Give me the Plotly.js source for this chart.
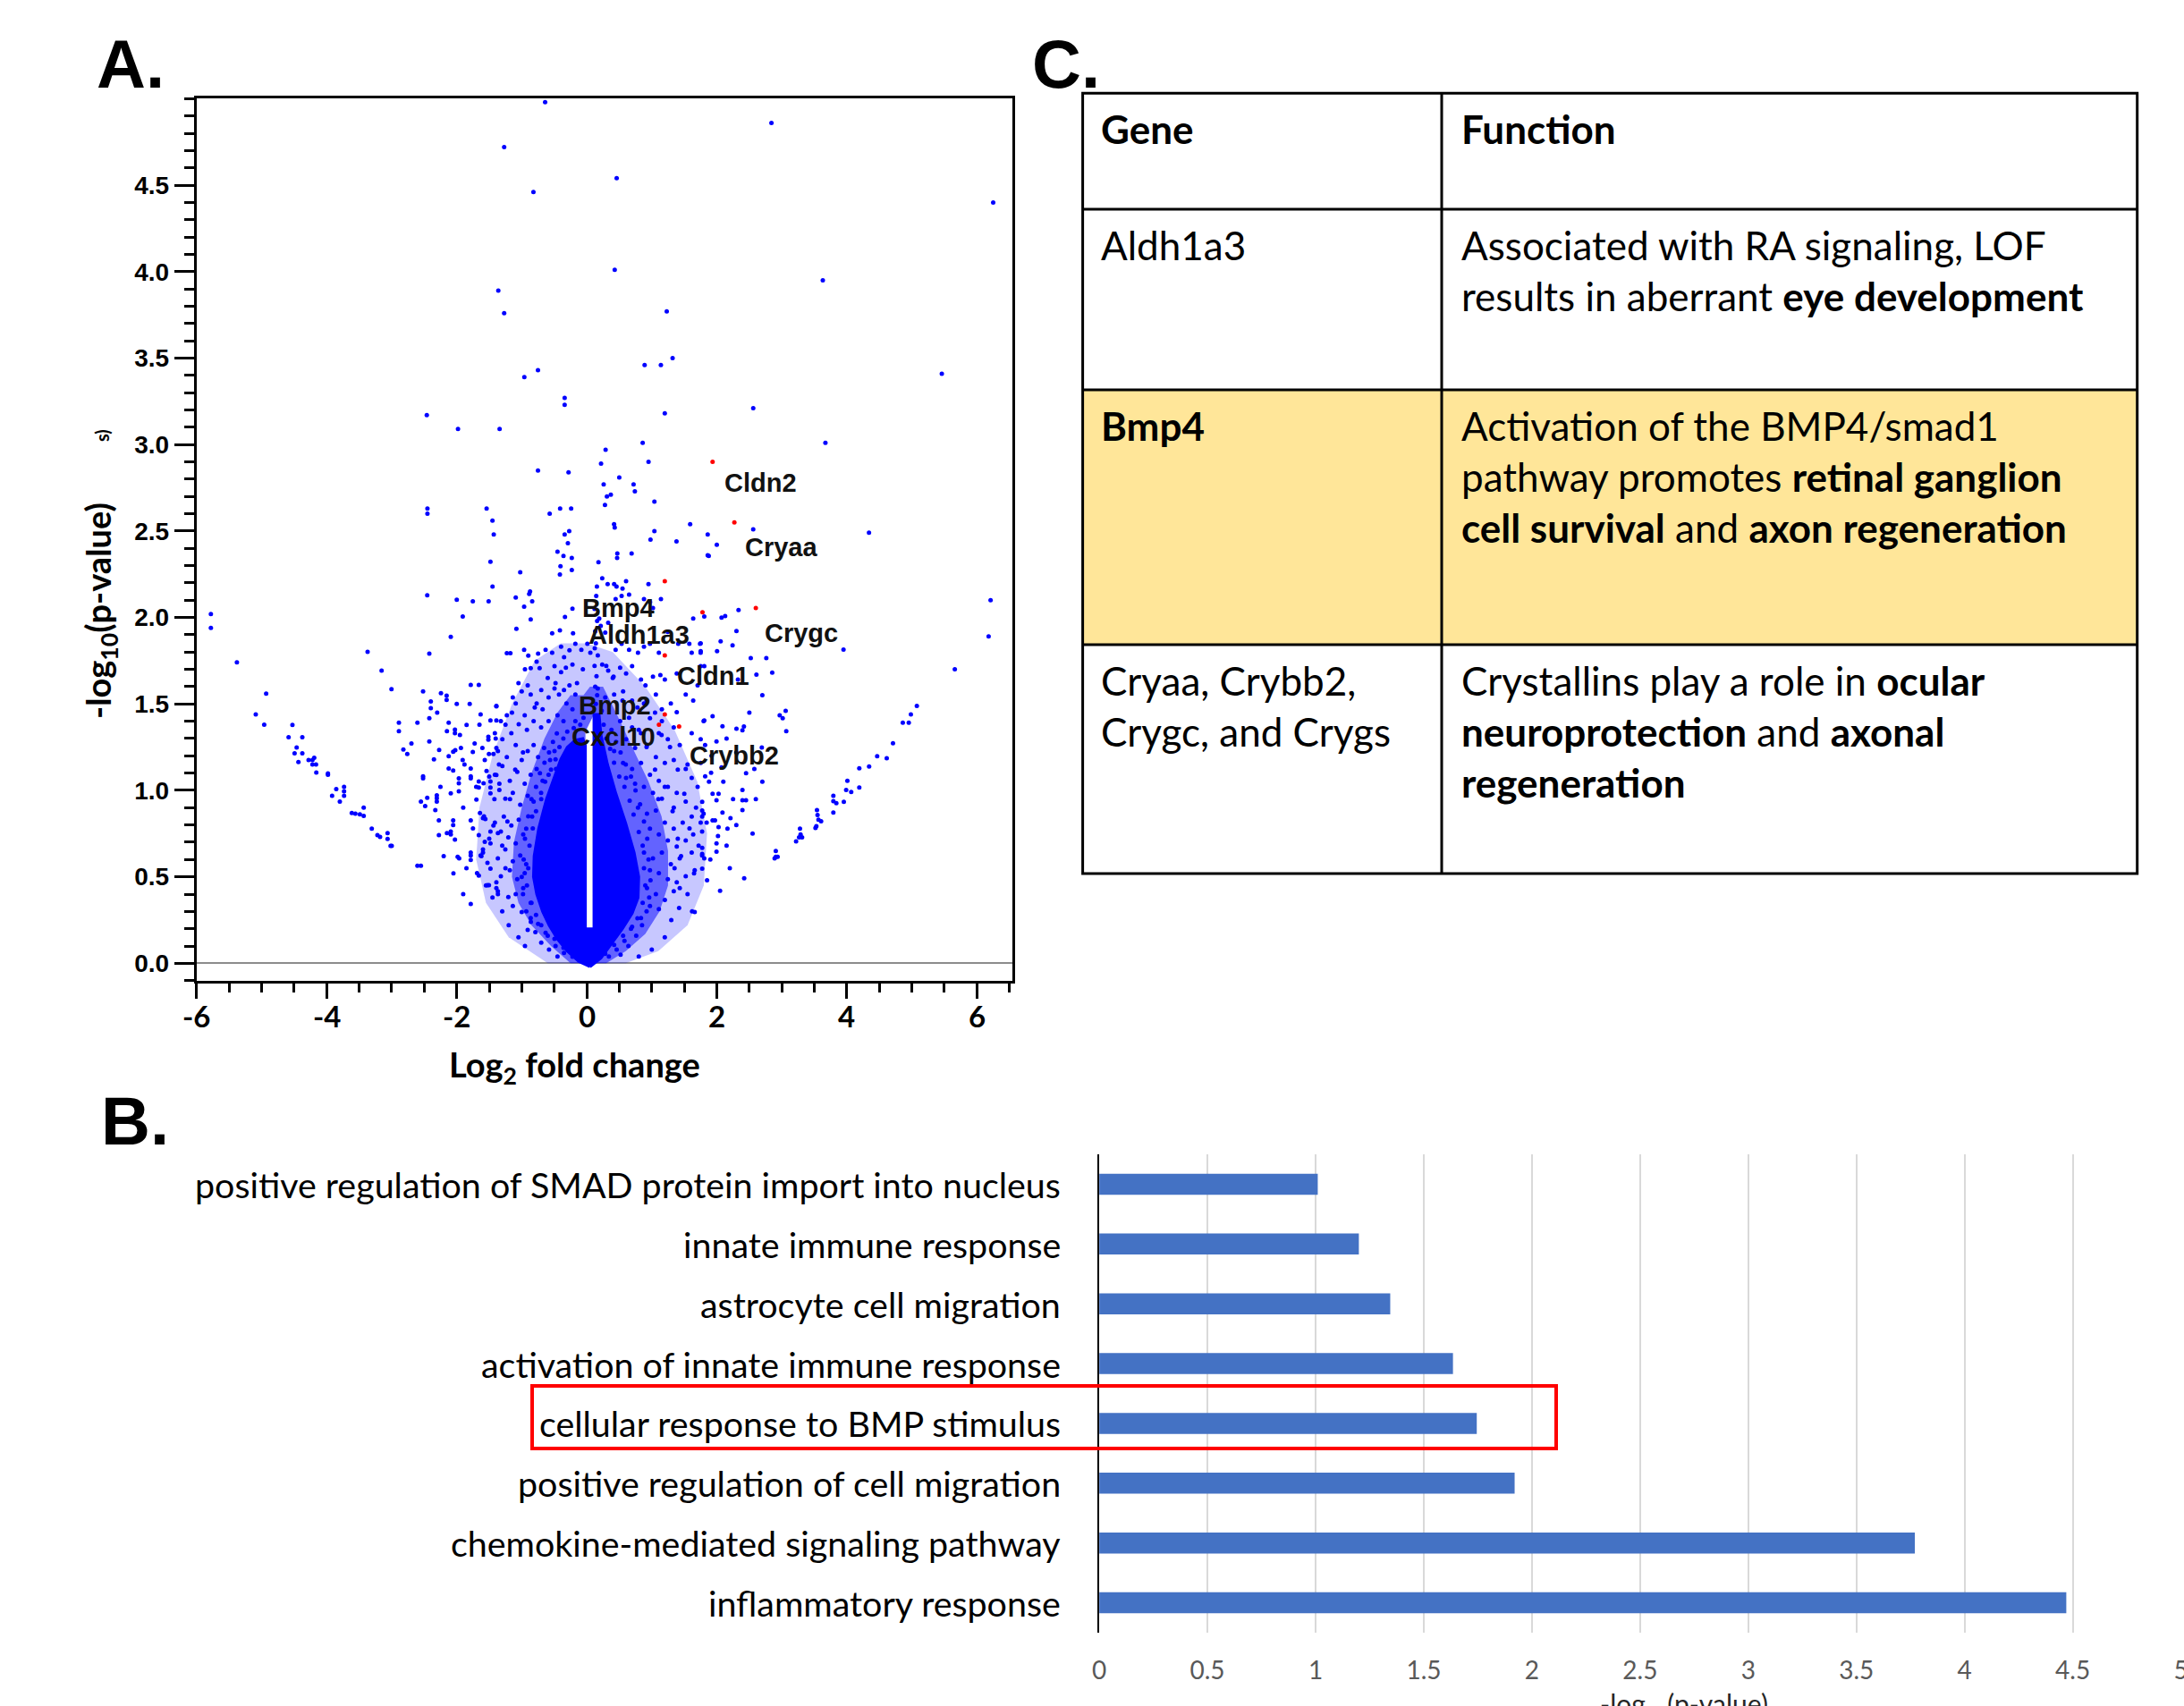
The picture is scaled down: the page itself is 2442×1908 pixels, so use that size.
<!DOCTYPE html>
<html>
<head>
<meta charset="utf-8">
<script src="https://cdn.plot.ly/plotly-3.0.1.min.js"></script>
<style>html,body{margin:0;padding:0;background:#fff;}#fig{width:2442px;height:1908px;}</style>
</head>
<body>
<div id="fig"></div>
<script>
// ---------------- DATA ----------------
// Panel A: volcano plot (log2 fold change, -log10 p-value)
const topOutliers = [[-0.64,4.98],[2.84,4.86],[-1.27,4.72],[0.46,4.54],[-0.82,4.46],[6.25,4.40],[0.43,4.01],[3.63,3.95],[-1.36,3.89],[-1.27,3.76],[1.23,3.77],[1.32,3.50],[0.89,3.46],[1.14,3.46],[-0.75,3.43],[-0.96,3.39],[5.46,3.41],[-0.34,3.27],[-0.34,3.23],[2.56,3.21],[-2.46,3.17],[-1.98,3.09],[-1.34,3.09],[1.20,3.18],[3.67,3.01],[0.86,3.01],[0.29,2.97],[0.95,2.90],[-0.75,2.85],[-0.28,2.84],[0.22,2.89],[0.50,2.81],[0.26,2.77],[0.28,2.65],[0.72,2.77],[0.74,2.73],[0.37,2.71],[0.31,2.70],[1.04,2.67],[-2.45,2.63],[-2.45,2.60],[-1.54,2.63],[-1.45,2.56],[-1.43,2.48],[-0.41,2.63],[-0.24,2.63],[-0.57,2.60],[0.42,2.54],[0.43,2.52],[1.59,2.54],[1.86,2.48],[2.00,2.42],[2.56,2.51],[4.34,2.49],[1.04,2.50],[0.98,2.45],[1.38,2.44],[1.86,2.36],[0.69,2.37],[0.47,2.37],[-0.27,2.50],[-0.34,2.48],[-0.45,2.38],[-0.29,2.43],[0.18,2.32]];

const leftWing = [[-5.78,2.02],[-5.78,1.94],[-5.38,1.74],[-4.93,1.56],[-5.09,1.44],[-4.96,1.38],
[-1.481,2.322],[-1.449,2.179],[-2.453,2.129],[-1.999,2.103],[-1.752,2.093],[-1.509,2.093],[-1.907,2.006],[-2.091,1.888],[-3.370,1.801],[-2.421,1.791],[-3.155,1.693],[-3.003,1.586],
[-1.784,1.610],[-1.660,1.610],[-2.517,1.572],[-2.242,1.562],[-2.155,1.548],[-2.155,1.524],[-2.398,1.514],[-2.398,1.476],[-1.999,1.500],[-1.390,1.489],[-1.632,1.439],[-1.481,1.405],[-1.390,1.405],[-2.421,1.417],[-2.889,1.391],[-2.889,1.343],[-2.604,1.391],[-2.123,1.391],[-2.150,1.343],[-2.027,1.352],[-2.027,1.331],[-1.848,1.379],[-1.513,1.310],[-1.513,1.293],[-2.421,1.283],[-2.696,1.271],[-2.820,1.236],[-2.760,1.210],[-2.270,1.234],[-2.123,1.198],[-2.054,1.224],[-2.022,1.233],[-1.935,1.245],[-1.908,1.176],[-1.752,1.222],[-1.724,1.271],[-1.605,1.245],[-1.504,1.210],[-1.435,1.210],[-1.366,1.227],[-1.568,1.176],[-2.123,1.127],[-2.054,1.115],[-1.784,1.127],[-1.784,1.081],[-1.784,1.069],[-1.660,1.052],[-1.660,1.017],[-1.587,1.041],[-1.541,1.112],[-1.481,1.052],[-1.481,1.017],[-1.481,0.983],[-1.390,1.089],[-1.344,1.038],[-1.967,1.069],[-1.967,1.041],[-1.967,0.995],[-2.091,0.983],[-2.517,1.081],[-2.517,1.069],[-2.306,0.972],[-2.306,0.955],[-2.306,0.935],[-2.453,0.957],[-2.550,0.935],[-2.485,0.909],[-2.329,0.886],[-2.274,0.826],[-2.274,0.741],[-2.150,0.753],[-2.091,0.762],[-2.091,0.745],[-2.054,0.826],[-2.054,0.800],[-2.027,0.716],[-1.784,0.826],[-1.697,0.947],[-1.642,0.869],[-1.596,0.840],[-1.559,0.835],[-1.660,0.741],[-1.435,0.797],[-1.481,0.762],[-1.366,0.753],[-1.568,0.702],[-1.596,0.659],[-1.632,0.624],[-1.596,0.641],[-1.481,0.693],[-1.985,0.616],[-1.962,0.607],[-1.784,0.641],[-1.784,0.624],[-1.784,0.598],[-1.527,0.581],[-1.481,0.547],[-1.687,0.521],[-1.660,0.507],[-1.527,0.452],[-1.504,0.452],[-1.390,0.469],[-1.390,0.435],[-1.366,0.400],[-2.604,0.564],[-2.550,0.564],[-1.784,0.343],
[-4.526,1.379],[-4.585,1.308],[-4.374,1.308],[-4.461,1.248],[-4.493,1.214],[-4.374,1.214],[-4.434,1.164],[-4.278,1.176],[-4.218,1.176],[-4.191,1.188],[-4.218,1.150],[-4.163,1.150],[-4.159,1.103],[-3.980,1.098],[-3.980,1.090],[-3.852,1.007],[-3.916,0.969],[-3.797,0.935],[-3.732,1.021],[-3.732,0.969],[-3.732,0.995],[-3.613,0.869],[-3.558,0.866],[-3.430,0.900],[-3.430,0.852],[-3.489,0.862],[-3.306,0.779],[-3.219,0.741],[-3.178,0.731],[-3.063,0.753],[-3.063,0.719],[-2.999,0.679],[-3.017,0.679]];

const coreHalo = [[-0.358,2.356],[-0.230,2.344],[-0.404,2.296],[-0.230,2.275],[-0.413,2.248],[0.467,2.344],[-1.023,2.262],[-1.092,2.115],[-0.963,2.063],[-0.872,2.150],[-0.839,2.093],[-0.885,2.136],[-0.862,1.989],[-1.082,1.934],[-0.532,1.908],[-0.413,1.926],[-0.335,2.003],[-0.220,2.051],[-0.211,1.908],[-1.229,1.793],[-1.174,1.793],[-0.963,1.813],[-0.899,1.779],[-0.748,1.791],[-0.862,1.707],[-0.725,1.707],[-0.771,1.745],[-0.633,1.813],[-0.532,1.796],[-0.395,1.831],[-0.349,1.770],[-0.266,1.810],[-0.496,1.719],[-0.395,1.684],[-0.321,1.710],[-0.220,1.727],
[0.156,2.179],[0.238,2.227],[0.321,2.193],[0.421,2.193],[0.458,2.179],[0.550,2.167],[0.605,2.210],[0.651,2.132],[0.536,2.124],[0.444,2.106],[0.146,2.124],[0.949,2.193],[1.141,2.106],[0.880,2.106],[0.972,2.089],[1.018,2.055],[1.637,1.994],[0.192,1.994],[0.330,1.969],[0.215,1.951],[0.284,1.913],[-0.175,1.848],[-0.083,1.813],[0.009,1.848],[0.055,1.796],[0.123,1.822],[0.444,1.813],[0.536,1.848],[0.651,1.813],[0.788,1.796],[0.880,1.831],[0.972,1.848],[1.109,1.796],[1.247,1.917],[1.407,1.848],[1.577,1.848],[1.751,1.796],[1.742,1.848],[1.614,1.796],
[0.238,1.727],[0.330,1.693],[0.412,1.658],[0.513,1.710],[0.605,1.676],[0.697,1.719],[0.834,1.641],[0.903,1.607],[1.018,1.658],[1.132,1.667],[1.201,1.641],[1.384,1.676],[1.522,1.555],[1.637,1.520],[1.705,1.607],
[0.169,1.589],[0.284,1.538],[0.421,1.555],[0.559,1.572],[0.697,1.520],[0.880,1.503],[1.063,1.555],[1.155,1.469],[1.293,1.503],[1.384,1.452],
[-0.266,1.607],[-0.175,1.555],[-0.312,1.503],[-0.427,1.555],[-0.496,1.589],[-0.587,1.538],[-0.679,1.469],[-0.771,1.503],[-0.862,1.555],[-0.908,1.607],[-1.000,1.572],[-1.092,1.503],[-1.137,1.538],[-1.229,1.434],[-1.321,1.400],[-1.390,1.486],[-1.413,1.331],[-1.298,1.296],[-1.160,1.331],[-1.046,1.383],[-0.954,1.434],[-0.817,1.400],[-0.702,1.365],[-0.587,1.400],[-0.450,1.434],[-0.358,1.400],[-0.220,1.469],[-0.175,1.400],
[-1.390,1.245],[-1.229,1.193],[-1.092,1.262],[-1.000,1.176],[-0.908,1.227],[-0.817,1.262],[-0.748,1.193],[-0.656,1.245],[-0.564,1.176],[-0.496,1.227],
[-1.413,1.090],[-1.298,1.141],[-1.183,1.055],[-1.069,1.107],[-0.954,1.038],[-0.862,1.090],[-0.771,1.124],[-0.679,1.055],[-0.587,1.090],[-0.473,1.124],
[-1.344,1.003],[-1.252,0.952],[-1.137,0.986],[-1.023,0.917],[-0.908,0.969],[-0.817,0.935],[-0.702,0.986],[-0.610,0.900],
[-1.413,0.814],[-1.275,0.848],[-1.160,0.797],[-1.046,0.831],[-0.931,0.779],[-0.840,0.848],[-1.321,0.762],[-1.206,0.728],[-1.092,0.693],[-0.977,0.745],
[-1.367,0.607],[-1.252,0.659],[-1.137,0.590],[-1.023,0.624],[-0.931,0.573],[-1.321,0.504],[-1.183,0.538],[-1.069,0.486],[-0.954,0.521],
[-1.367,0.417],[-1.206,0.383],[-1.092,0.400],[-0.977,0.435],[-0.862,0.349],[-1.137,0.331],[-1.000,0.297],[-0.862,0.262],[-0.748,0.228],[-0.908,0.193],[-0.633,0.176],[-0.496,0.142],[-0.358,0.090],[-0.220,0.038],
[0.972,1.417],[1.155,1.400],[1.338,1.365],[1.109,1.331],[1.247,1.296],[1.430,1.262],[1.614,1.331],[1.797,1.400],[1.820,1.262],
[0.513,1.400],[0.697,1.365],[0.834,1.331],[0.605,1.296],[0.743,1.245],[0.926,1.262],[1.063,1.193],[1.201,1.159],[1.338,1.176],[1.522,1.124],[1.614,1.072],[1.705,1.021],
[0.421,1.227],[0.559,1.159],[0.697,1.124],[0.834,1.159],[0.972,1.090],[1.109,1.055],[1.247,1.021],[1.384,0.986],[1.522,0.935],[1.338,0.900],[1.155,0.952],[1.018,0.986],[0.880,1.021],[0.743,1.038],[0.605,1.072],
[0.788,0.900],[0.926,0.866],[1.063,0.883],[1.201,0.814],[1.338,0.779],[1.476,0.814],[1.614,0.848],[1.797,0.866],[1.774,0.762],[1.637,0.745],[1.522,0.710],[1.384,0.676],[1.247,0.710],[1.109,0.745],[0.972,0.779],
[0.880,0.641],[1.018,0.607],[1.155,0.641],[1.293,0.573],[1.430,0.607],[1.614,0.641],[1.774,0.624],[1.660,0.538],[1.522,0.504],[1.384,0.469],[1.247,0.486],[1.109,0.521],[0.972,0.538],
[0.926,0.435],[1.063,0.400],[1.201,0.366],[1.109,0.314],[0.972,0.331],[0.834,0.262],[0.697,0.211],[0.559,0.159],[0.421,0.107],[0.284,0.055],[1.338,0.417],[1.430,0.435],[1.660,0.297]];

const coreEdge = [[-0.90,0.55],[-0.92,0.45],[-0.88,0.68],[-0.83,0.78],[-0.78,0.88],[-0.70,0.95],[-0.64,1.05],[-0.55,1.12],[-0.48,1.18],[-0.42,1.25],[-0.36,1.30],[-0.30,1.34],[-0.20,1.36],[-0.10,1.38],[-0.05,1.42],[-0.85,0.35],[-0.78,0.28],[-0.70,0.22],[-0.60,0.16],[-0.48,0.10],[-0.35,0.06],[-0.97,0.60],[-0.95,0.72],[-0.90,0.85],[-0.85,0.95],[-0.78,1.02],[-0.72,1.10],[-0.65,1.16],[-0.58,1.22],[-0.52,1.28],[-0.46,1.33],[-1.00,0.50],[-0.98,0.40],[-0.93,0.30],[-0.86,0.24],[-0.79,0.18],[-0.70,0.12],[-0.58,0.08],[-0.45,0.04],
[0.88,0.55],[0.90,0.45],[0.86,0.68],[0.80,0.76],[0.72,0.86],[0.66,0.94],[0.58,1.02],[0.50,1.08],[0.42,1.16],[0.36,1.24],[0.30,1.30],[0.26,1.38],[0.23,1.46],[0.86,0.35],[0.78,0.26],[0.68,0.20],[0.58,0.13],[0.46,0.08],[0.34,0.04],[0.95,0.60],[0.93,0.72],[0.88,0.82],[0.82,0.92],[0.75,1.00],[0.68,1.08],[0.60,1.15],[0.52,1.22],[0.45,1.28],[0.38,1.35],[0.98,0.48],[0.96,0.38],[0.92,0.30],[0.85,0.22],[0.76,0.16],[0.64,0.10],[0.52,0.05],
[0.14,1.50],[0.16,1.55],[0.13,1.60],[0.15,1.66],[0.12,1.72],[0.17,1.78],[0.14,1.85],[0.13,1.92],[0.16,1.98],[0.12,2.05]];

const midBand = [[-1.55,0.45],[-1.45,0.38],[-1.62,0.62],[-1.50,0.72],[-1.58,0.85],[-1.42,0.95],[-1.50,1.08],[-1.35,1.15],[-1.40,1.30],[-1.25,1.38],[-1.30,0.30],[-1.20,0.22],[-1.05,0.15],[-0.95,0.10],[-1.25,0.55],[-1.30,0.68],[-1.22,0.82],[-1.18,0.95],[-1.10,1.12],[-0.98,1.22],[-0.92,1.35],[-0.80,1.48],[-0.70,1.58],[-0.60,1.65],[-0.48,1.62],[-0.35,1.58],[-0.15,1.62],[-0.06,1.70],[-1.15,1.45],[-1.05,1.62],[-0.95,1.70],
[1.30,0.25],[1.42,0.32],[1.55,0.40],[1.65,0.52],[1.72,0.68],[1.58,0.78],[1.68,0.90],[1.50,0.98],[1.55,1.15],[1.40,1.12],[1.28,1.25],[1.15,1.32],[1.05,1.45],[0.92,1.52],[0.78,1.48],[0.65,1.42],[0.55,1.52],[0.40,1.65],[0.30,1.72],[1.20,0.15],[1.00,0.08],[0.80,0.04],[1.35,0.55],[1.40,0.72],[1.32,0.88],[1.20,1.02],[1.10,0.95],[1.05,1.12],[0.92,1.25],[0.80,1.35],[1.45,0.62],[1.62,0.30],[1.85,0.48],[1.90,0.60],[1.88,1.05],[1.92,1.20],
[-1.90,0.40],[-2.05,0.52],[-1.85,0.55],[-2.20,0.62],[-1.75,0.78],[-1.90,0.90],[-2.25,1.02],[-1.70,1.02],[-1.88,1.15],[-2.35,1.18],[-1.95,1.32],[-1.65,1.38],[-2.30,1.45],[-1.80,1.50],
[2.05,0.42],[2.20,0.55],[2.15,0.68],[2.30,0.80],[2.25,0.95],[2.10,1.05],[2.45,1.10],[2.30,1.22],[2.15,1.30],[2.55,0.75],[2.60,0.95],[2.70,1.05],[2.50,1.45],[2.70,1.55]];

const rightWing = [[1.876,2.356],[1.807,2.006],[2.073,1.999],[2.128,2.008],[2.334,2.043],[2.302,1.922],[1.752,1.851],[1.752,1.805],[2.004,1.805],[2.059,1.862],[2.242,1.839],[2.522,1.765],[2.761,1.765],[3.948,1.814],[2.609,1.670],[2.852,1.681],[1.752,1.719],[1.807,1.719],[2.325,1.641],
[1.807,1.405],[1.935,1.429],[2.087,1.371],[2.302,1.357],[2.394,1.348],[2.417,1.369],[2.967,1.434],[3.013,1.417],[3.059,1.460],[3.068,1.343],
[1.752,1.296],[1.995,1.283],[2.692,1.248],[2.577,1.124],[1.821,1.081],[1.912,1.102],[2.073,1.133],[1.752,1.159],
[1.935,0.981],[2.027,0.981],[1.995,0.943],[2.394,1.003],[2.394,0.943],[2.449,0.943],[2.394,0.886],
[1.775,0.934],[1.775,0.883],[1.775,0.848],[1.752,0.814],[1.844,0.814],[1.935,0.826],[1.972,0.826],[2.027,0.788],[2.087,0.872],[2.210,0.840],[2.164,0.779],
[2.018,0.736],[1.995,0.693],[1.995,0.645],[1.775,0.667],[1.775,0.633],[1.807,0.607],[1.775,0.547],[2.421,0.492],
[5.076,1.488],[4.984,1.440],[4.952,1.391],[4.860,1.391],[4.709,1.272],[4.466,1.198],[4.613,1.186],[4.342,1.138],[4.191,1.128],[4.008,1.055],[3.989,1.003],[4.067,0.991],[4.191,1.017],[3.792,0.969],[3.792,0.938],[3.838,0.926],[3.953,0.934],[3.792,0.872],[3.540,0.886],[3.549,0.857],[3.563,0.831],[3.604,0.822],[3.531,0.793],[3.517,0.783],[3.279,0.779],[3.288,0.745],[3.265,0.728],[3.219,0.705],[3.311,0.728],[2.907,0.650],[2.907,0.616],[2.889,0.607],[2.935,0.616],
[6.21,2.10],[6.18,1.89],[5.66,1.70]];

// outlines of the saturated cloud: solid core, dense speckle zone, sparse speckle zone, empty gap at x≈0
const coreOutline = [[0.05,-0.02],[-0.12,0.01],[-0.30,0.07],[-0.45,0.14],[-0.58,0.22],[-0.68,0.30],[-0.77,0.40],[-0.82,0.50],[-0.81,0.62],[-0.74,0.78],[-0.62,0.95],[-0.50,1.08],[-0.40,1.18],[-0.30,1.25],[-0.18,1.29],[-0.06,1.30],[-0.02,1.26],[-0.02,0.20],[0.11,0.20],[0.11,1.44],[0.19,1.44],[0.22,1.32],[0.32,1.15],[0.45,0.98],[0.60,0.81],[0.73,0.64],[0.80,0.50],[0.79,0.38],[0.70,0.29],[0.55,0.20],[0.38,0.11],[0.22,0.03],[0.05,-0.02]];
const denseZone = [[-0.25,0.00],[-0.55,0.10],[-0.85,0.22],[-1.05,0.35],[-1.15,0.50],[-1.12,0.70],[-1.00,0.90],[-0.85,1.10],[-0.65,1.30],[-0.45,1.45],[-0.25,1.55],[-0.05,1.55],[0.05,1.60],[0.25,1.60],[0.45,1.45],[0.70,1.25],[0.95,1.05],[1.15,0.85],[1.25,0.65],[1.25,0.45],[1.12,0.30],[0.90,0.17],[0.60,0.07],[0.30,0.00],[-0.25,0.00]];
const sparseZone = [[-0.60,0.00],[-1.20,0.15],[-1.55,0.35],[-1.70,0.60],[-1.65,0.90],[-1.45,1.20],[-1.15,1.50],[-0.80,1.75],[-0.40,1.85],[0.00,1.85],[0.40,1.80],[0.90,1.60],[1.35,1.35],[1.70,1.05],[1.85,0.75],[1.80,0.45],[1.55,0.22],[1.10,0.07],[0.60,0.00],[-0.60,0.00]];
const gapOutline = [[-0.02,0.20],[0.11,0.20],[0.11,1.44],[-0.02,1.34],[-0.02,0.20]];

const highlighted = [[1.935,2.90],[2.27,2.55],[1.20,2.21],[1.78,2.03],[2.60,2.055],[1.20,1.78],[1.20,1.44],[1.11,1.38],[1.42,1.37]];

const geneNames = ['Cldn2','Cryaa','Crygc','Bmp4','Aldh1a3','Cldn1','Bmp2','Cxcl10','Crybb2'];
const geneX = [2.67, 2.99, 3.30, 0.49, 0.80, 1.94, 0.43, 0.41, 2.27];
const geneY = [2.78, 2.405, 1.91, 2.055, 1.90, 1.66, 1.49, 1.31, 1.20];

const xTickVals = [-6,-4,-2,0,2,4,6];
const xTickText = ['-6','-4','-2','0','2','4','6'];
const yTickVals = [0,0.5,1,1.5,2,2.5,3,3.5,4,4.5];
const yTickText = ['0.0','0.5','1.0','1.5','2.0','2.5','3.0','3.5','4.0','4.5'];

// Panel B: GO terms
const goTerms = ['positive regulation of SMAD protein import into nucleus','innate immune response','astrocyte cell migration','activation of innate immune response','cellular response to BMP stimulus','positive regulation of cell migration','chemokine-mediated signaling pathway','inflammatory response'];
const goValues = [1.01, 1.20, 1.345, 1.635, 1.745, 1.92, 3.77, 4.47];

// Panel C: table
const tableHeader = ['<b>Gene</b>', '<b>Function</b>'];
const tableGenes = ['Aldh1a3', '<b>Bmp4</b>', 'Cryaa, Crybb2,<br>Crygc, and Crygs'];
const tableFunctions = [
  'Associated with RA signaling, LOF<br>results in aberrant <b>eye development</b>',
  'Activation of the BMP4/smad1<br>pathway promotes <b>retinal ganglion</b><br><b>cell survival</b> and <b>axon regeneration</b>',
  'Crystallins play a role in <b>ocular</b><br><b>neuroprotection</b> and <b>axonal</b><br><b>regeneration</b>'
];
const highlightedRow = 1;

// ---------------- LAYOUT HELPERS ----------------
const W = 2442, H = 1908;
const px = v => v / W;
const py = v => 1 - v / H;

const blue = '#0000ff';
const allBlue = [].concat(topOutliers, leftWing, coreHalo, coreEdge, midBand, rightWing);
const poly = (pts, fill) => ({type:'scatter', mode:'lines', x: pts.map(p=>p[0]), y: pts.map(p=>p[1]),
  fill:'toself', fillcolor: fill, line:{width:0, color: fill}, xaxis:'x', yaxis:'y', hoverinfo:'skip'});

const traces = [
  poly(sparseZone, 'rgba(0,0,255,0.22)'),
  poly(denseZone, 'rgba(0,0,255,0.50)'),
  poly(gapOutline, '#ffffff'),
  Object.assign(poly(coreOutline, blue), {line:{color: blue, width:3}}),
  {type:'scatter', mode:'markers', x: allBlue.map(p=>p[0]), y: allBlue.map(p=>p[1]),
   marker:{color: blue, size:5}, xaxis:'x', yaxis:'y', hoverinfo:'skip'},
  {type:'scatter', mode:'markers', x: highlighted.map(p=>p[0]), y: highlighted.map(p=>p[1]),
   marker:{color:'#ff0000', size:5}, xaxis:'x', yaxis:'y', hoverinfo:'skip'},
  {type:'bar', orientation:'h', x: goValues, y: goTerms, marker:{color:'#4472c4'},
   xaxis:'x2', yaxis:'y2', hoverinfo:'skip'}
];

const annotations = [];
// gene labels
geneNames.forEach((g,i)=>annotations.push({xref:'x', yref:'y', x: geneX[i], y: geneY[i], xanchor:'center', yanchor:'middle', text: g, showarrow:false,
  font:{family:'Liberation Sans, Arial, sans-serif', size:29, weight:'bold', color:'#111'}}));
// x tick labels of the volcano plot
xTickVals.forEach((v,i)=>annotations.push({xref:'x', yref:'paper', x: v, y: py(1136), xanchor:'center', yanchor:'middle',
  text: xTickText[i], showarrow:false, font:{family:'Lato, sans-serif', size:33, weight:'bold', color:'#000'}}));
// panel letters
[['A.',106,71.5],['B.',111,1253.5],['C.',1152,71.5]].forEach(p=>annotations.push({xref:'paper', yref:'paper',
  x: px(p[1]), y: py(p[2]), xanchor:'left', yanchor:'middle', text:'<b>'+p[0]+'</b>', showarrow:false,
  font:{family:'Liberation Sans, Arial, sans-serif', size:76, color:'#000'}}));
// volcano titles
annotations.push({xref:'paper', yref:'paper', x: px(112), y: py(683), xanchor:'center', yanchor:'middle', text:'<b>-log<sub>10</sub>(p-value)</b>', textangle:-90,
  showarrow:false, font:{family:'Lato, sans-serif', size:38, color:'#000'}});
annotations.push({xref:'paper', yref:'paper', x: px(642), y: py(1193), xanchor:'center', yanchor:'middle', text:'<b>Log<sub>2</sub> fold change</b>',
  showarrow:false, font:{family:'Lato, sans-serif', size:38, color:'#000'}});
annotations.push({xref:'paper', yref:'paper', x: px(114), y: py(487), xanchor:'center', yanchor:'middle', text:'s)', textangle:-90,
  showarrow:false, font:{family:'Lato, sans-serif', size:20, weight:'bold', color:'#000'}});
// bar labels
goTerms.forEach(t=>annotations.push({xref:'paper', yref:'y2', x: px(1187.6), y: t, xanchor:'right', yanchor:'middle',
  text: t, showarrow:false, font:{family:'Lato, sans-serif', size:39.4, color:'#000'}}));
annotations.push({xref:'paper', yref:'paper', x: px(1883), y: py(1885), xanchor:'center', yanchor:'top',
  text:'-log<sub>10</sub>(p-value)', showarrow:false, font:{family:'Lato, sans-serif', size:30, color:'#262626'}});

// table geometry (px)
const tX = [1210.6, 1612, 2389.7];
const tY = [104.3, 234, 436, 721, 977];
const shapes = [];
shapes.push({type:'rect', xref:'paper', yref:'paper', x0: px(tX[0]), x1: px(tX[2]), y0: py(tY[highlightedRow+1]), y1: py(tY[highlightedRow+2]),
  fillcolor:'#ffe699', line:{width:0}, layer:'below'});
shapes.push({type:'rect', xref:'paper', yref:'paper', x0: px(tX[0]), x1: px(tX[2]), y0: py(tY[0]), y1: py(tY[4]),
  line:{color:'#000', width:3}});
[tY[1],tY[2],tY[3]].forEach(y=>shapes.push({type:'line', xref:'paper', yref:'paper', x0: px(tX[0]), x1: px(tX[2]), y0: py(y), y1: py(y), line:{color:'#000', width:3}}));
shapes.push({type:'line', xref:'paper', yref:'paper', x0: px(tX[1]), x1: px(tX[1]), y0: py(tY[0]), y1: py(tY[4]), line:{color:'#000', width:3}});

const tableFont = {family:'Lato, sans-serif', size:44, color:'#000'};
const cellRows = [[tableHeader[0], tableHeader[1]]].concat(tableGenes.map((g,i)=>[g, tableFunctions[i]]));
cellRows.forEach((r,i)=>{
  annotations.push({xref:'paper', yref:'paper', x: px(1229), y: py(tY[i]+12), xanchor:'left', yanchor:'top', align:'left', text:r[0], showarrow:false, font: tableFont});
  annotations.push({xref:'paper', yref:'paper', x: px(1632), y: py(tY[i]+12), xanchor:'left', yanchor:'top', align:'left', text:r[1], showarrow:false, font: tableFont});
});

// red highlight box around the BMP term
shapes.push({type:'rect', xref:'paper', yref:'paper', x0: px(595), x1: px(1740), y0: py(1550), y1: py(1620),
  line:{color:'#ff0000', width:4}});

const layout = {
  width: W, height: H, margin:{l:0,r:0,t:0,b:0}, paper_bgcolor:'#fff', plot_bgcolor:'rgba(0,0,0,0)',
  showlegend:false, bargap:0.647,
  xaxis:{domain:[px(219.8), px(1131.6)], range:[-6, 6.54], anchor:'y', tickmode:'array', tickvals:xTickVals, showticklabels:false,
    ticks:'outside', ticklen:17, tickwidth:3, tickcolor:'#000', showline:true, linewidth:3, linecolor:'#000', mirror:true,
    showgrid:false, zeroline:false,
    minor:{tickmode:'linear', tick0:0, dtick:0.5, ticks:'outside', ticklen:10, tickwidth:3, tickcolor:'#000', showgrid:false}},
  yaxis:{domain:[py(1096.7), py(110.4)], range:[-0.1, 5.0], anchor:'x', tickmode:'array', tickvals:yTickVals, ticktext:yTickText,
    ticks:'outside', ticklen:22, tickwidth:3, tickcolor:'#000', showline:true, linewidth:3, linecolor:'#000', mirror:true,
    showgrid:false, zeroline:true, zerolinecolor:'#8c8c8c', zerolinewidth:2,
    tickfont:{family:'Liberation Sans, Arial, sans-serif', size:28, weight:'bold', color:'#000'},
    minor:{tickmode:'linear', tick0:0, dtick:0.1, ticks:'outside', ticklen:11, tickwidth:3, tickcolor:'#000', showgrid:false}},
  xaxis2:{domain:[px(1229.1), px(2438.6)], range:[0,5], anchor:'y2', tick0:0, dtick:0.5, showgrid:true, gridcolor:'#d9d9d9', gridwidth:2,
    zeroline:false, showline:false, ticks:'outside', ticklen:17, tickcolor:'rgba(0,0,0,0)', ticklabeloverflow:'allow',
    tickfont:{family:'Lato, sans-serif', size:28, color:'#595959'}},
  yaxis2:{domain:[py(1826), py(1291)], anchor:'x2', type:'category', categoryorder:'array', categoryarray:goTerms, autorange:'reversed',
    showticklabels:false, ticks:'', showline:true, linecolor:'#000', linewidth:2, showgrid:false, zeroline:false},
  annotations: annotations,
  shapes: shapes
};

Plotly.newPlot('fig', traces, layout, {displayModeBar:false, staticPlot:true});
</script>
</body>
</html>
